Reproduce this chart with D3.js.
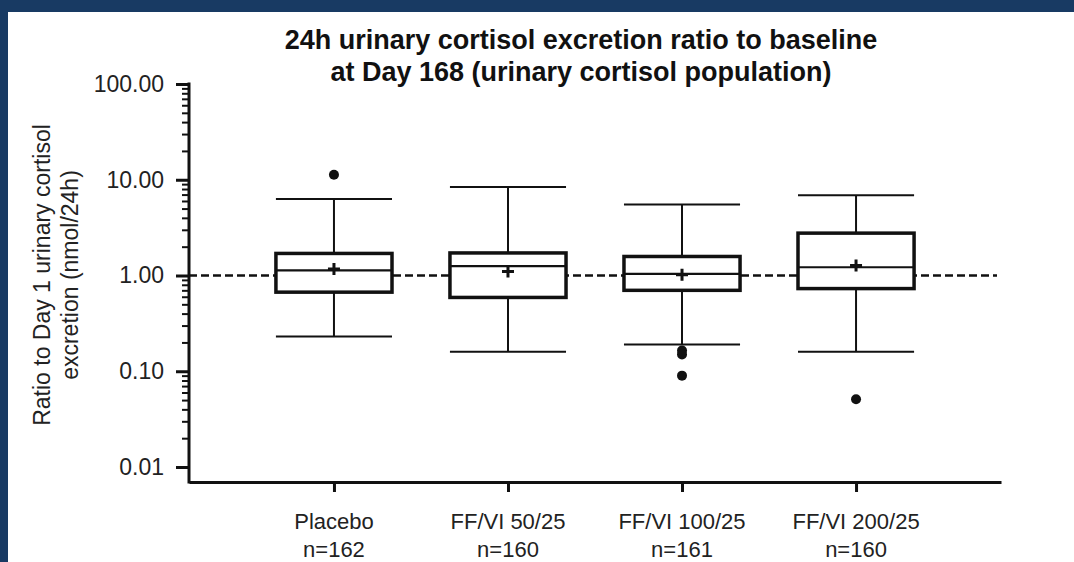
<!DOCTYPE html>
<html>
<head>
<meta charset="utf-8">
<script src="https://cdn.jsdelivr.net/npm/d3@7"></script>
<style>
  html, body { margin: 0; padding: 0; background: #fff; }
  svg { display: block; font-family: "Liberation Sans", Arial, sans-serif; }
</style>
</head>
<body>
<div id="chart"></div>
<script>
// data
const groups = ["Placebo", "FF/VI 50/25", "FF/VI 100/25", "FF/VI 200/25"]
const nLabels = ["n=162", "n=160", "n=161", "n=160"]
const whiskerLow = [0.23, 0.16, 0.19, 0.16]
const q1 = [0.67, 0.59, 0.70, 0.73]
const median = [1.13, 1.25, 1.04, 1.22]
const q3 = [1.70, 1.72, 1.58, 2.77]
const whiskerHigh = [6.3, 8.4, 5.5, 6.9]
const means = [1.17, 1.10, 1.02, 1.27]
const outliers = [[11.3], [], [0.165, 0.15, 0.09], [0.051]]
const yTicks = [0.01, 0.1, 1, 10, 100]
const refLine = 1

const width = 1074, height = 562
const frame = "#183a63"

const svg = d3.select("#chart").append("svg")
  .attr("width", width)
  .attr("height", height)

// blue frame (top and left only)
svg.append("rect").attr("x", 0).attr("y", 0).attr("width", width).attr("height", height).attr("fill", frame)
svg.append("rect").attr("x", 8).attr("y", 12).attr("width", width - 8).attr("height", height - 12).attr("fill", "#fff")

// plot geometry
const left = 189, right = 1001, axisY = 482

const x = d3.scalePoint().domain(groups).range([left, right]).padding(0.833)
const y = d3.scaleLog().domain([0.01, 100]).range([467, 84])
const boxW = x.step() * 0.667

// title
const title = svg.append("text")
  .attr("text-anchor", "middle")
  .attr("font-weight", "bold")
  .attr("font-size", "27px")
  .attr("fill", "#111")
title.append("tspan").attr("x", 581).attr("y", 49).text("24h urinary cortisol excretion ratio to baseline")
title.append("tspan").attr("x", 581).attr("y", 81).text("at Day 168 (urinary cortisol population)")

// y axis label
const yl = svg.append("text")
  .attr("transform", "translate(0,275) rotate(-90)")
  .attr("text-anchor", "middle")
  .attr("font-size", "23px")
  .attr("fill", "#222")
yl.append("tspan").attr("x", 0).attr("y", 50).text("Ratio to Day 1 urinary cortisol")
yl.append("tspan").attr("x", 0).attr("y", 78).text("excretion (nmol/24h)")

// reference line at 1
svg.append("line")
  .attr("x1", left).attr("x2", 997)
  .attr("y1", y(refLine)).attr("y2", y(refLine))
  .attr("stroke", "#111")
  .attr("stroke-width", 2.5)
  .attr("stroke-dasharray", "8,4")

// minor ticks
const minor = []
yTicks.slice(0, -1).forEach(d => { for (let k = 2; k <= 9; k++) minor.push(d * k) })
svg.append("g")
  .attr("transform", `translate(${left},0)`)
  .call(d3.axisLeft(y).tickValues(minor).tickSize(7).tickFormat(""))
  .call(g => g.select(".domain").remove())
  .call(g => g.selectAll("line").attr("stroke", "#111").attr("stroke-width", 2))

// major y ticks
svg.append("g")
  .attr("transform", `translate(${left},0)`)
  .call(d3.axisLeft(y).tickValues(yTicks).tickSize(13).tickPadding(12).tickFormat(d3.format(".2f")))
  .call(g => g.select(".domain").remove())
  .call(g => g.selectAll("line").attr("stroke", "#111").attr("stroke-width", 3))
  .call(g => g.selectAll("text").attr("font-size", "23px").attr("fill", "#222").attr("font-family", "Liberation Sans, Arial, sans-serif"))

// x axis
svg.append("g")
  .attr("transform", `translate(0,${axisY})`)
  .call(d3.axisBottom(x).tickSize(10).tickSizeOuter(0).tickFormat(""))
  .call(g => g.select(".domain").attr("stroke", "#111").attr("stroke-width", 3))
  .call(g => g.selectAll(".tick line").attr("stroke", "#111").attr("stroke-width", 3))

// y axis line
svg.append("line")
  .attr("x1", left).attr("x2", left)
  .attr("y1", y(100) - 1.5).attr("y2", axisY + 1.5)
  .attr("stroke", "#111").attr("stroke-width", 3)

// x labels
const xl = svg.append("g").selectAll("text")
  .data(groups)
  .join("text")
  .attr("text-anchor", "middle")
  .attr("font-size", "22px")
  .attr("fill", "#222")
xl.append("tspan").attr("x", d => x(d)).attr("y", 529).text(d => d)
xl.append("tspan").attr("x", d => x(d)).attr("y", 557).text((d, i) => nLabels[i])

// boxes
const box = svg.append("g").selectAll("g")
  .data(groups)
  .join("g")

box.append("line")
  .attr("x1", d => x(d)).attr("x2", d => x(d))
  .attr("y1", (d, i) => y(whiskerHigh[i])).attr("y2", (d, i) => y(q3[i]))
  .attr("stroke", "#111").attr("stroke-width", 2)
box.append("line")
  .attr("x1", d => x(d)).attr("x2", d => x(d))
  .attr("y1", (d, i) => y(q1[i])).attr("y2", (d, i) => y(whiskerLow[i]))
  .attr("stroke", "#111").attr("stroke-width", 2)
box.append("line")
  .attr("x1", d => x(d) - boxW / 2).attr("x2", d => x(d) + boxW / 2)
  .attr("y1", (d, i) => y(whiskerHigh[i])).attr("y2", (d, i) => y(whiskerHigh[i]))
  .attr("stroke", "#111").attr("stroke-width", 2)
box.append("line")
  .attr("x1", d => x(d) - boxW / 2).attr("x2", d => x(d) + boxW / 2)
  .attr("y1", (d, i) => y(whiskerLow[i])).attr("y2", (d, i) => y(whiskerLow[i]))
  .attr("stroke", "#111").attr("stroke-width", 2)

box.append("rect")
  .attr("x", d => x(d) - boxW / 2)
  .attr("width", boxW)
  .attr("y", (d, i) => y(q3[i]))
  .attr("height", (d, i) => y(q1[i]) - y(q3[i]))
  .attr("fill", "#fff")
  .attr("stroke", "#111").attr("stroke-width", 3.5)

box.append("line")
  .attr("x1", d => x(d) - boxW / 2).attr("x2", d => x(d) + boxW / 2)
  .attr("y1", (d, i) => y(median[i])).attr("y2", (d, i) => y(median[i]))
  .attr("stroke", "#111").attr("stroke-width", 2.2)

// mean markers
box.append("path")
  .attr("d", (d, i) => {
    const cx = x(d), cy = y(means[i])
    return `M${cx - 6},${cy}H${cx + 6}M${cx},${cy - 6}V${cy + 6}`
  })
  .attr("stroke", "#111").attr("stroke-width", 3)

// outliers
box.each(function (d, i) {
  d3.select(this).selectAll("circle")
    .data(outliers[i])
    .join("circle")
    .attr("cx", x(d))
    .attr("cy", v => y(v))
    .attr("r", 5)
    .attr("fill", "#111")
})
</script>
</body>
</html>
